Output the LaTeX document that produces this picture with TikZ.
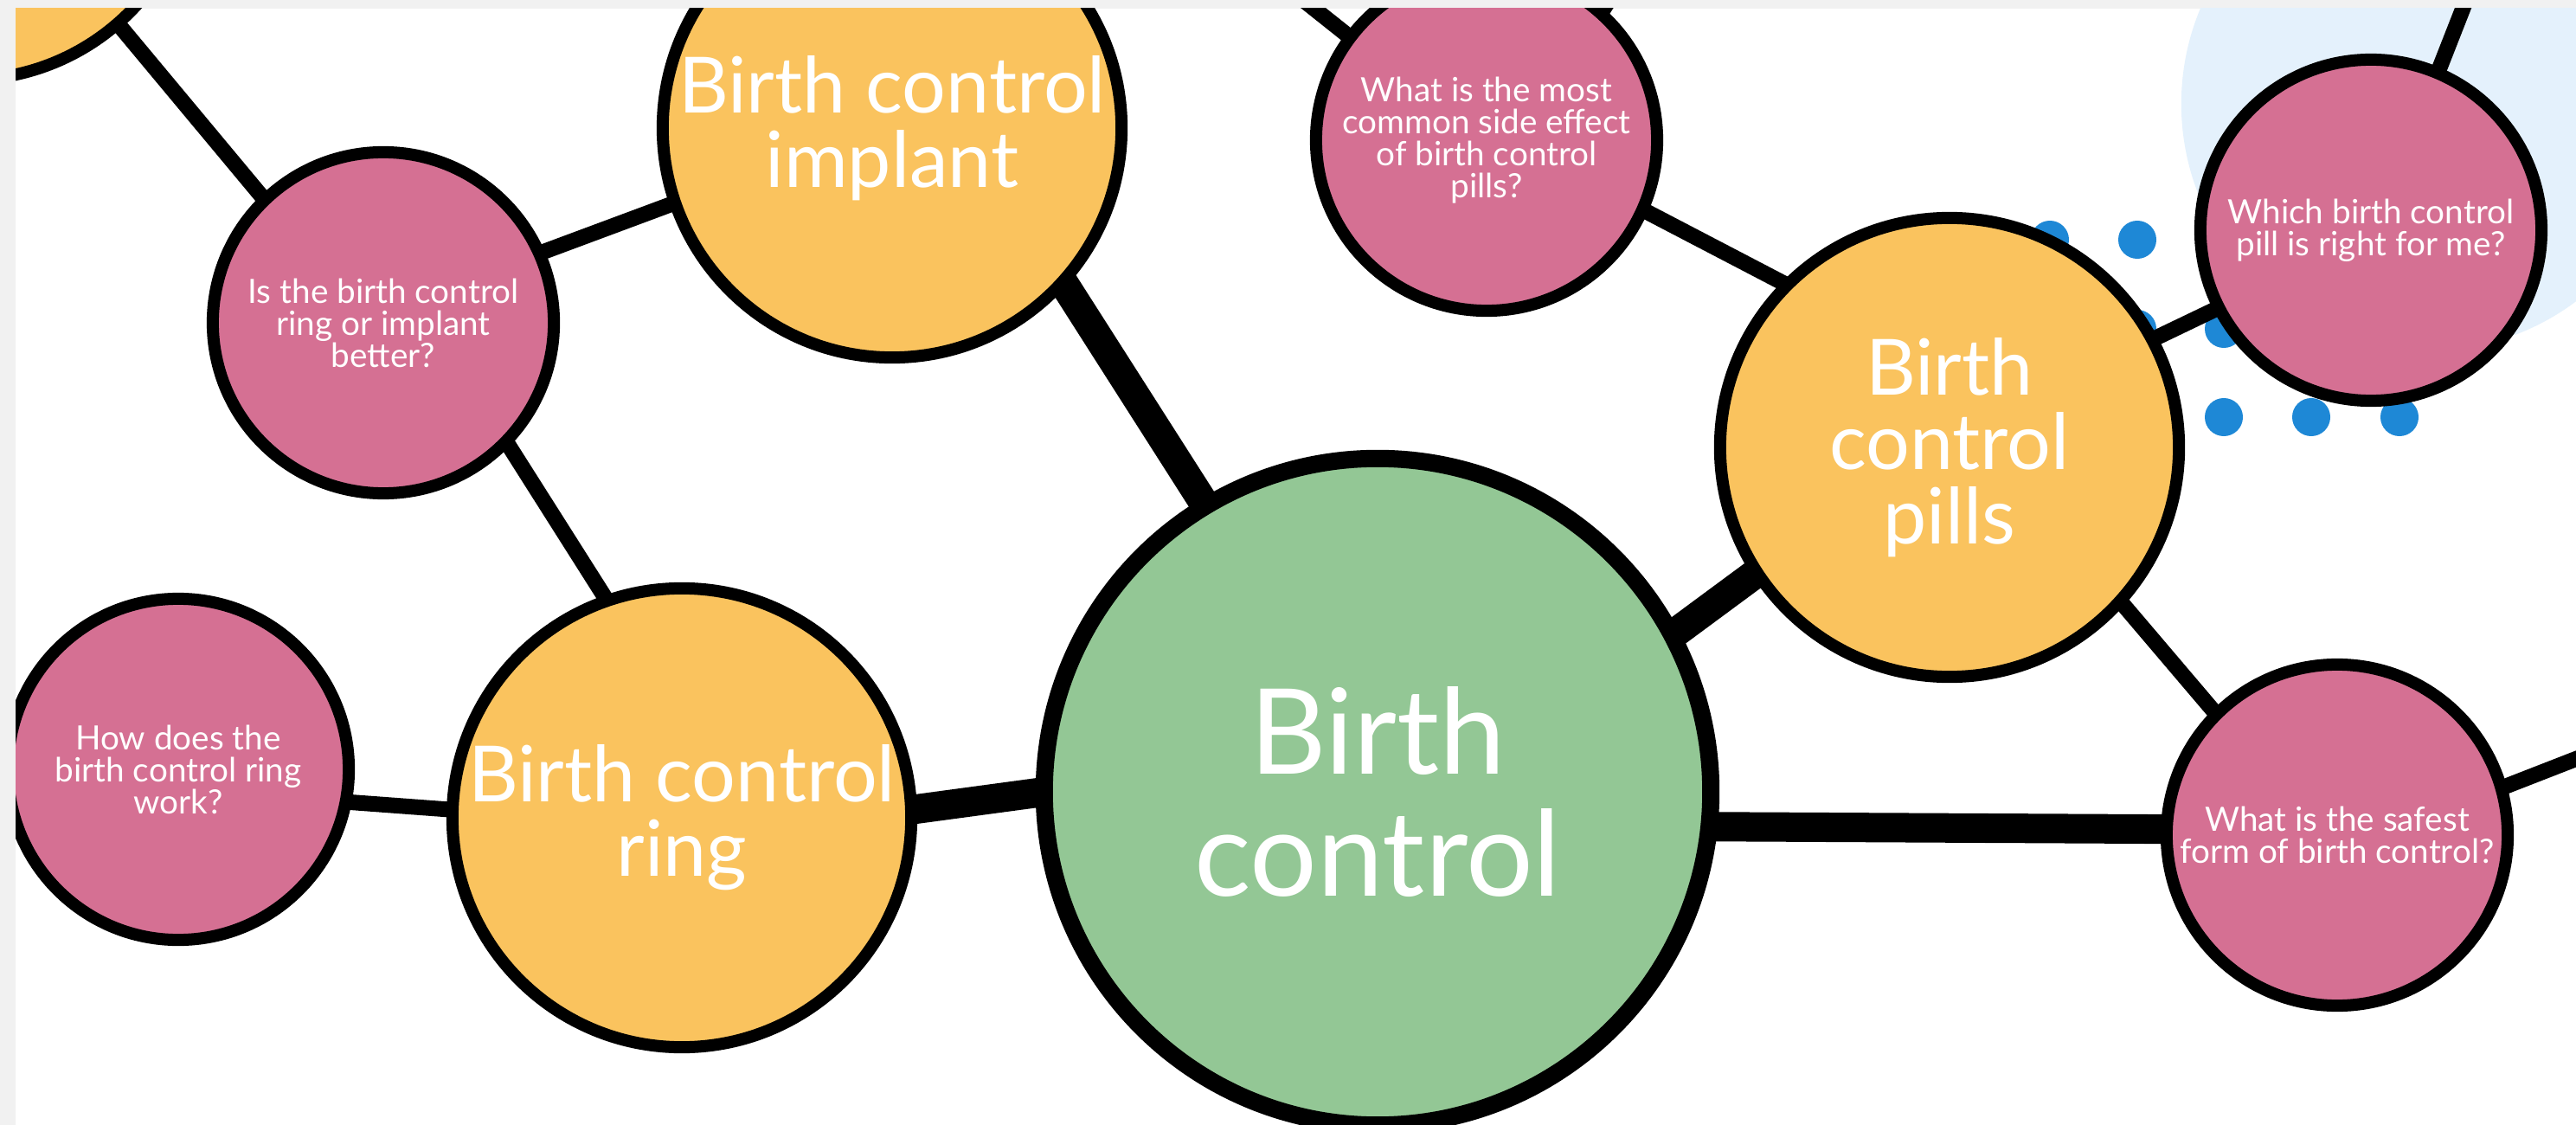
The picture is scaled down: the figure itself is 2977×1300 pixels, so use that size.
\documentclass[tikz,border=0pt]{standalone}
\usepackage{fontspec}
\setmainfont{Lato}
\usetikzlibrary{backgrounds}
\definecolor{hubgreen}{HTML}{93C795}
\definecolor{topicyellow}{HTML}{FAC35E}
\definecolor{askpink}{HTML}{D57093}
\definecolor{skyblue}{HTML}{E4F1FC}
\definecolor{dotblue}{HTML}{1E88D6}
\definecolor{edgegray}{HTML}{F1F1F1}
\tikzset{
  hub/.style   ={circle, draw, fill=hubgreen, line width=2mm, inner sep=0pt,
                 outer sep=0pt, minimum size=77mm, align=center, text=white,
                 font=\fontsize{39}{40}\selectfont},
  topic/.style ={circle, draw, fill=topicyellow, line width=1.4mm, inner sep=0pt,
                 outer sep=0pt, minimum size=53mm, align=center, text=white,
                 font=\fontsize{25.5}{24.5}\selectfont},
  ask/.style   ={circle, draw, fill=askpink, line width=1.4mm, inner sep=0pt,
                 outer sep=0pt, minimum size=39.4mm, align=center, text=white,
                 font=\fontsize{11}{10.5}\selectfont},
  trunk/.style ={line width=3.4mm},
  link/.style  ={line width=1.8mm},
}

\begin{document}
\begin{tikzpicture}[x=0.01cm, y=-0.01cm]
\useasboundingbox (0,0) rectangle (2977,1300);

% ---- canvas, blue blob and dot grid ---------------------------------
\begin{scope}[on background layer]
\fill[edgegray] (0,0) rectangle (2977,1300);
\fill[white] (18,10) rectangle (2977,1300);
\clip (18,10) rectangle (2977,1300);
\fill[skyblue] (2806,120) circle[radius=2.85cm];
\foreach \x in {2369,2470,2570,2671,2773}
  \foreach \y in {277,380,482}
    \fill[dotblue] (\x,\y) circle[radius=2.2mm];
\end{scope}

% ---- circles --------------------------------------------------------
\begin{scope}
\clip (18,10) rectangle (2977,1300);
\node[hub]   (bc)       at (1592,915) {Birth\\control};
\node[topic] (corner)   at (-38,-173) {};
\node[topic] (implant)  at (1031,148) {Birth control\\implant};
\node[topic] (ring)     at (788,945)  {Birth control\\ring};
\node[topic] (pills)    at (2253,517) {Birth\\control\\pills};
\node[ask]   (ringimpl) at (443,373)  {Is the birth control\\ring or implant\\better?};
\node[ask]   (howring)  at (206,889)  {How does the\\birth control ring\\work?};
\node[ask]   (sideeff)  at (1718,162) {What is the most\\common side effect\\of birth control\\pills?};
\node[ask]   (which)    at (2740,266) {Which birth control\\pill is right for me?};
\node[ask]   (safest)   at (2701,965) {What is the safest\\form of birth control?};
\end{scope}

\coordinate (offside)  at (1481,-20);
\coordinate (offside2) at (1885,-40);
\coordinate (offwhich) at (2858,-20);
\coordinate (offsafe)  at (3000,868);

% ---- connectors -----------------------------------------------------
\begin{scope}[on background layer]
\clip (18,10) rectangle (2977,1300);
\draw[trunk] (implant.-42) -- (bc.121);
\draw[trunk] (ring.2) -- (bc.180);
\draw[trunk] (bc.28) -- (pills.-147);
\draw[trunk] (bc.-6) -- (safest.178);
\draw[link] (corner.-49) -- (ringimpl.134);
\draw[link] (ringimpl.24) -- (implant.-161);
\draw[link] (ringimpl.-44) -- (ring.109);
\draw[link] (howring.-11) -- (ring.178);
\draw[link] (sideeff.-24) -- (pills.135);
\draw[link] (pills.28) -- (which.-153);
\draw[link] (pills.-42) -- (safest.135);
\draw[link] (sideeff.143) -- (offside);
\draw[link] (sideeff.48) -- (offside2);
\draw[link] (which.67) -- (offwhich);
\draw[link] (safest.16) -- (offsafe);
\end{scope}

\end{tikzpicture}
\end{document}
